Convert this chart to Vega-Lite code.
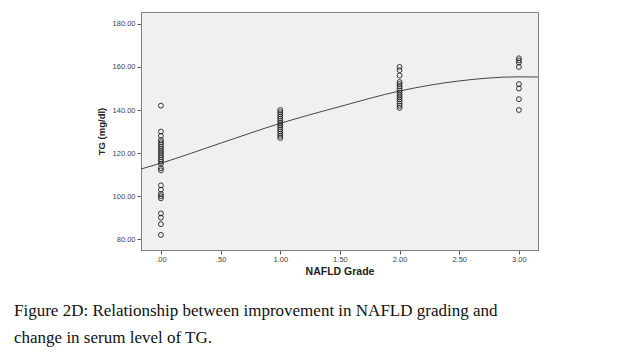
{
  "$schema": "https://vega.github.io/schema/vega-lite/v6.json",
  "width": 397,
  "height": 238,
  "autosize": "none",
  "padding": {"left": 141, "top": 12, "right": 86, "bottom": 113},
  "background": "white",
  "title": {
    "text": ["Figure 2D: Relationship between improvement in NAFLD grading and", "change in serum level of TG."],
    "orient": "bottom",
    "anchor": "start",
    "frame": "group",
    "dx": -127,
    "offset": 26,
    "font": "Liberation Serif",
    "fontSize": 17,
    "fontWeight": "normal",
    "color": "#111",
    "lineHeight": 27,
    "baseline": "top"
  },
  "config": {
    "view": {"fill": "#f0f0f0", "stroke": "#808080", "strokeWidth": 1},
    "axis": {
      "labelFont": "Liberation Sans",
      "labelFontSize": 7.5,
      "labelColor": "#444",
      "titleFont": "Liberation Sans",
      "titleFontWeight": "bold",
      "titleColor": "#222",
      "domainColor": "#808080",
      "tickColor": "#555",
      "tickSize": 4,
      "grid": false
    }
  },
  "datasets": {
    "points": [
      {"grade": 0, "tg": 142}, {"grade": 0, "tg": 130}, {"grade": 0, "tg": 128}, {"grade": 0, "tg": 126},
      {"grade": 0, "tg": 125}, {"grade": 0, "tg": 124}, {"grade": 0, "tg": 123}, {"grade": 0, "tg": 122},
      {"grade": 0, "tg": 121}, {"grade": 0, "tg": 120}, {"grade": 0, "tg": 119}, {"grade": 0, "tg": 118},
      {"grade": 0, "tg": 117}, {"grade": 0, "tg": 116}, {"grade": 0, "tg": 115}, {"grade": 0, "tg": 113},
      {"grade": 0, "tg": 112}, {"grade": 0, "tg": 105}, {"grade": 0, "tg": 103}, {"grade": 0, "tg": 101},
      {"grade": 0, "tg": 100}, {"grade": 0, "tg": 99}, {"grade": 0, "tg": 92}, {"grade": 0, "tg": 90},
      {"grade": 0, "tg": 87}, {"grade": 0, "tg": 82},
      {"grade": 1, "tg": 140}, {"grade": 1, "tg": 139}, {"grade": 1, "tg": 138}, {"grade": 1, "tg": 137},
      {"grade": 1, "tg": 136}, {"grade": 1, "tg": 135}, {"grade": 1, "tg": 134}, {"grade": 1, "tg": 133},
      {"grade": 1, "tg": 132}, {"grade": 1, "tg": 131}, {"grade": 1, "tg": 130}, {"grade": 1, "tg": 129},
      {"grade": 1, "tg": 128}, {"grade": 1, "tg": 127},
      {"grade": 2, "tg": 160}, {"grade": 2, "tg": 158.5}, {"grade": 2, "tg": 156}, {"grade": 2, "tg": 153},
      {"grade": 2, "tg": 152}, {"grade": 2, "tg": 151}, {"grade": 2, "tg": 150}, {"grade": 2, "tg": 149},
      {"grade": 2, "tg": 148}, {"grade": 2, "tg": 147}, {"grade": 2, "tg": 146}, {"grade": 2, "tg": 145},
      {"grade": 2, "tg": 144}, {"grade": 2, "tg": 143}, {"grade": 2, "tg": 142}, {"grade": 2, "tg": 141},
      {"grade": 3, "tg": 164}, {"grade": 3, "tg": 163}, {"grade": 3, "tg": 162}, {"grade": 3, "tg": 160},
      {"grade": 3, "tg": 152}, {"grade": 3, "tg": 150}, {"grade": 3, "tg": 145}, {"grade": 3, "tg": 140}
    ],
    "curve": [
      {"grade": -0.167, "tg": 112.6}, {"grade": 0, "tg": 115.3}, {"grade": 0.5, "tg": 124.6},
      {"grade": 1, "tg": 133.8}, {"grade": 1.5, "tg": 141.6}, {"grade": 2, "tg": 148.8},
      {"grade": 2.5, "tg": 153.5}, {"grade": 3, "tg": 155.4}, {"grade": 3.16, "tg": 155.3}
    ]
  },
  "layer": [
    {
      "data": {"name": "curve"},
      "mark": {"type": "line", "interpolate": "monotone", "color": "#333", "strokeWidth": 0.9, "clip": true},
      "encoding": {
        "x": {"field": "grade", "type": "quantitative"},
        "y": {"field": "tg", "type": "quantitative"}
      }
    },
    {
      "data": {"name": "points"},
      "mark": {"type": "point", "shape": "circle", "filled": false, "size": 24, "stroke": "#222", "strokeWidth": 0.9, "opacity": 1},
      "encoding": {
        "x": {
          "field": "grade", "type": "quantitative",
          "scale": {"domain": [-0.167, 3.16], "nice": false, "zero": false},
          "axis": {
            "title": "NAFLD Grade", "titleFontSize": 10.5, "titlePadding": 4,
            "values": [0, 0.5, 1, 1.5, 2, 2.5, 3], "labelPadding": 1,
            "labelExpr": "datum.value < 1 ? substring(format(datum.value, '.2f'), 1) : format(datum.value, '.2f')"
          }
        },
        "y": {
          "field": "tg", "type": "quantitative",
          "scale": {"domain": [75, 185.5], "nice": false, "zero": false},
          "axis": {
            "title": "TG (mg/dl)", "titleFontSize": 9.5, "titlePadding": 6,
            "values": [80, 100, 120, 140, 160, 180], "format": ".2f", "labelPadding": 2
          }
        }
      }
    }
  ]
}
